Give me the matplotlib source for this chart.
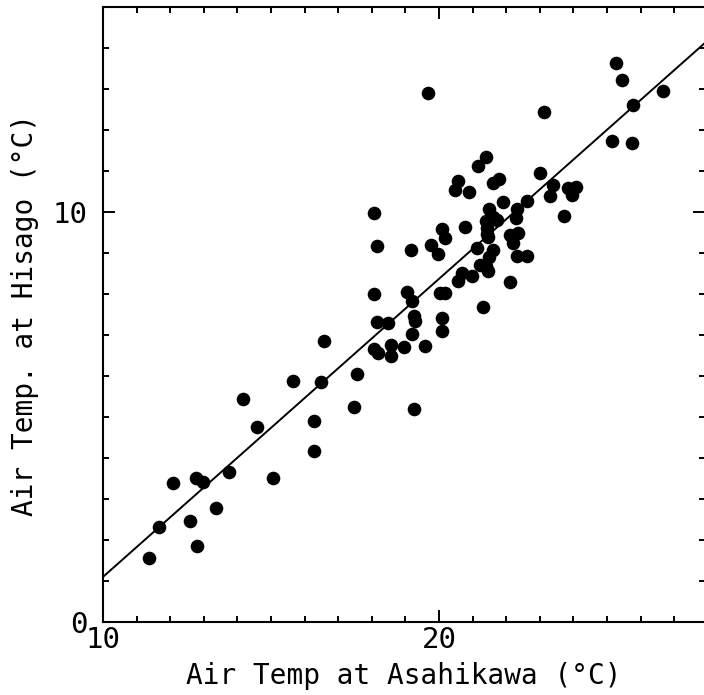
import numpy as np
import matplotlib
matplotlib.use("Agg")
import matplotlib.pyplot as plt
from matplotlib.ticker import MultipleLocator

# air temperature pairs (degC)
asahikawa = [11.37, 11.67, 12.80, 12.59, 13.36, 12.08, 12.77, 12.98, 13.75, 15.06,
             14.17, 14.58, 15.65, 16.49, 16.28, 16.28, 17.47, 17.56, 16.58, 19.26,
             18.07, 18.18, 18.57, 18.57, 18.96, 19.58, 19.20, 20.09, 20.09, 19.26,
             19.29, 18.15, 18.48, 18.07, 19.05, 19.20, 20.03, 20.18, 18.15, 19.17,
             19.76, 19.97, 18.07, 19.67, 20.09, 20.18, 20.77, 20.48, 20.57, 20.89,
             21.16, 21.40, 21.13, 21.79, 21.61, 21.90, 22.62, 21.49, 21.61, 21.40,
             21.73, 22.32, 22.29, 21.43, 21.43, 21.46, 22.11, 22.35, 22.20, 21.61,
             21.49, 22.32, 22.62, 21.22, 21.40, 21.46, 20.68, 20.98, 20.57, 22.11,
             21.31, 23.13, 23.01, 23.39, 23.30, 23.84, 24.08, 23.96, 23.72, 25.27,
             25.45, 26.67, 25.77, 25.15, 25.74]
hisago = [1.56, 2.32, 1.85, 2.46, 2.78, 3.39, 3.51, 3.41, 3.66, 3.51,
          5.44, 4.76, 5.88, 5.85, 4.90, 4.17, 5.24, 6.05, 6.85, 5.20,
          6.66, 6.56, 6.76, 6.49, 6.71, 6.73, 7.02, 7.10, 7.41, 7.46,
          7.34, 7.32, 7.29, 8.00, 8.05, 7.83, 8.02, 8.02, 9.17, 9.07,
          9.20, 8.98, 9.98, 12.90, 9.59, 9.37, 9.63, 10.54, 10.76, 10.49,
          11.12, 11.34, 9.12, 10.80, 10.71, 10.24, 10.27, 10.07, 9.88, 9.78,
          9.80, 10.07, 9.85, 9.61, 9.46, 9.39, 9.44, 9.49, 9.24, 9.07,
          8.90, 8.93, 8.93, 8.71, 8.68, 8.56, 8.51, 8.44, 8.32, 8.29,
          7.68, 12.44, 10.95, 10.66, 10.39, 10.59, 10.61, 10.41, 9.90, 13.63,
          13.22, 12.95, 12.61, 11.73, 11.68]

# regression line
slope = 0.727
intercept = -6.17

plt.rcParams['font.family'] = ['DejaVu Sans Mono']

fig = plt.figure(figsize=(7.04, 6.95), dpi=100)
ax = fig.add_axes([103 / 704, 73 / 695, 602 / 704, 615 / 695])

ax.plot(asahikawa, hisago, 'o', color='black', markersize=9.8, markeredgewidth=0)
xl = np.array([10, 28])
ax.plot(xl, slope * xl + intercept, color='black', linewidth=1.4)

ax.set_xlim(10, 10 + 602 / 33.6)
ax.set_ylim(0, 15)

ax.xaxis.set_major_locator(MultipleLocator(10))
ax.xaxis.set_minor_locator(MultipleLocator(1))
ax.yaxis.set_major_locator(MultipleLocator(10))
ax.yaxis.set_minor_locator(MultipleLocator(1))
ax.tick_params(which='both', direction='in', top=True, right=True, width=1.4, labelsize=21)
ax.tick_params(which='major', length=8.6)
ax.tick_params(which='minor', length=4.5)
ax.tick_params(axis='x', pad=3)
ax.tick_params(axis='y', pad=11)
ax.spines['right'].set_visible(False)
for s in ['left', 'bottom', 'top']:
    ax.spines[s].set_linewidth(1.5)

ax.set_xlabel('Air Temp at Asahikawa (°C)', fontsize=20, labelpad=6)
ax.set_ylabel('Air Temp. at Hisago (°C)', fontsize=20, labelpad=10)

fig.savefig('out.png', dpi=100)
